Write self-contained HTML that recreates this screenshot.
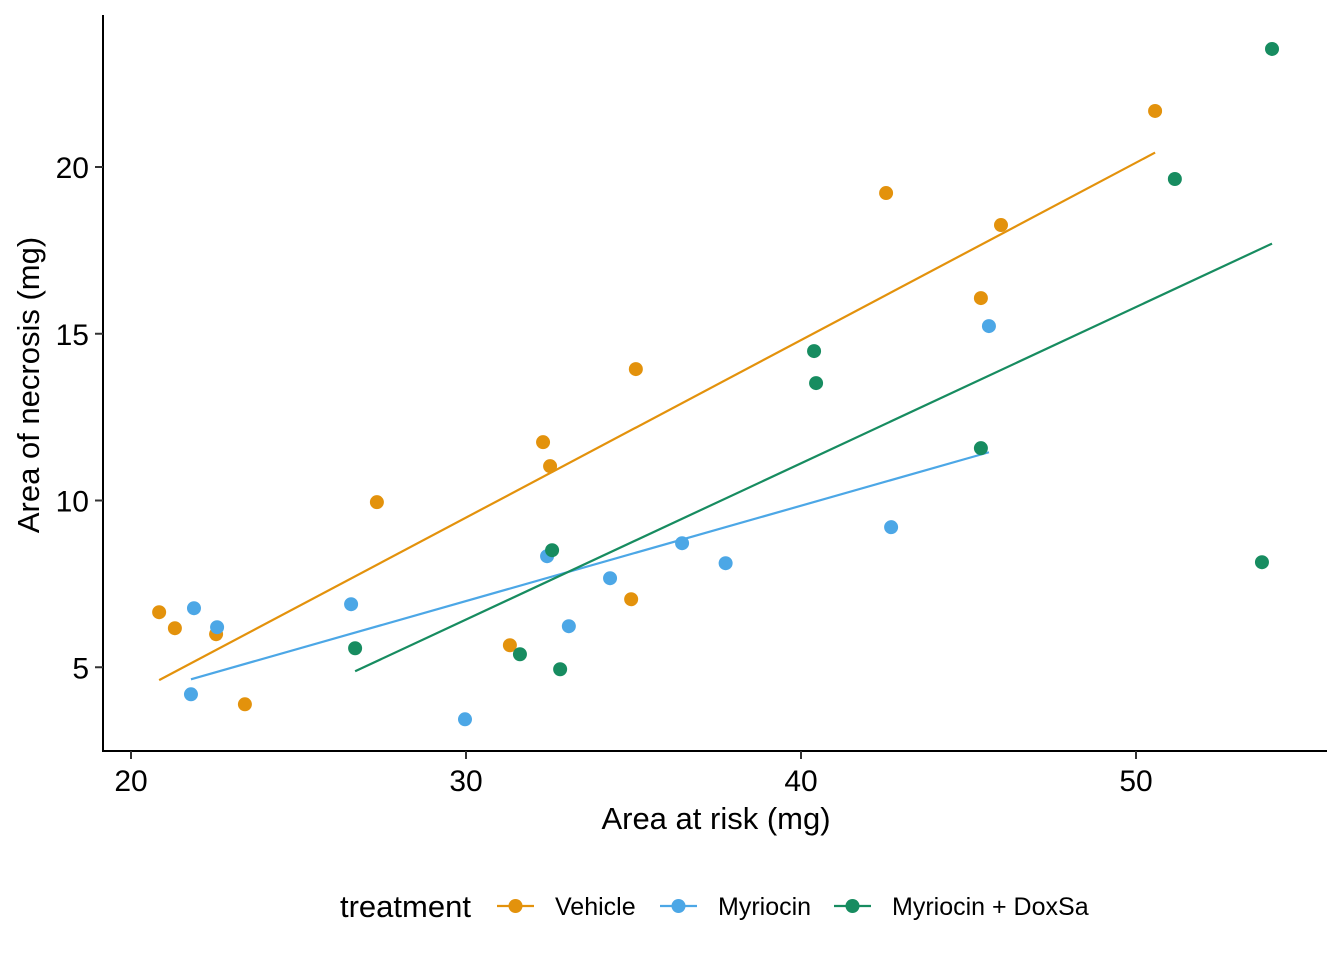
<!DOCTYPE html>
<html><head><meta charset="utf-8"><style>
body{margin:0;background:#fff}
svg text{font-family:"Liberation Sans",Arial,sans-serif;fill:#000}
</style></head><body>
<svg id="chart" width="1344" height="960" xmlns="http://www.w3.org/2000/svg">
<g id="plot"></g>
</svg>
<script>
const groups = ["Vehicle","Myriocin","Myriocin + DoxSa"];
const colors = ["#E3920C","#4CA7E6","#178C60"];
const vehX = [20.84,21.31,22.54,23.40,27.34,31.31,32.30,32.51,35.07,34.93,42.54,45.37,45.97,50.57];
const vehY = [6.65,6.17,5.99,3.89,9.95,5.66,11.75,11.03,13.94,7.04,19.22,16.07,18.26,21.68];
const myrX = [21.79,21.88,22.57,26.57,29.97,32.42,33.07,34.30,36.45,37.75,42.69,45.61];
const myrY = [4.19,6.77,6.20,6.89,3.44,8.33,6.23,7.67,8.72,8.12,9.20,15.23];
const doxX = [26.69,31.61,32.57,32.81,40.39,40.45,45.37,51.16,53.76,54.06];
const doxY = [5.57,5.39,8.51,4.94,14.48,13.52,11.57,19.64,8.15,23.54];
const xTicks = [20,30,40,50];
const yTicks = [5,10,15,20];

const NS="http://www.w3.org/2000/svg";
const xs = v => 131 + (v-20)*33.5;
const ys = v => 167 + (20-v)*33.35;
const g = document.getElementById('plot');
function mk(tag, attrs){const e=document.createElementNS(NS,tag);for(const k in attrs)e.setAttribute(k,attrs[k]);g.appendChild(e);return e;}

let ax=mk('line',{x1:103,y1:15,x2:103,y2:752,stroke:'#000','stroke-width':2});


ax=mk('line',{x1:102,y1:751,x2:1327,y2:751,stroke:'#000','stroke-width':2});


xTicks.forEach(t=>{
  const l=mk('line',{x1:xs(t),y1:751,x2:xs(t),y2:759,stroke:'#333','stroke-width':2});
  
  
  const tx=mk('text',{x:xs(t),y:791,'font-size':30,'text-anchor':'middle'});tx.textContent=t;
  
  
});
yTicks.forEach(t=>{
  const l=mk('line',{x1:95,y1:ys(t),x2:103,y2:ys(t),stroke:'#333','stroke-width':2});
  
  
  const tx=mk('text',{x:89,y:ys(t)+11,'font-size':30,'text-anchor':'end'});tx.textContent=t;
  
  
});
let t=mk('text',{x:716,y:829,'font-size':31,'text-anchor':'middle'});t.textContent='Area at risk (mg)';


t=mk('text',{x:39,y:385,'font-size':31,'text-anchor':'middle',transform:'rotate(-90 39 385)'});t.textContent='Area of necrosis (mg)';



const data=[[vehX,vehY],[myrX,myrY],[doxX,doxY]];
data.forEach(([X,Y],i)=>{
  const n=X.length,mx=X.reduce((a,b)=>a+b)/n,my=Y.reduce((a,b)=>a+b)/n;
  let sxy=0,sxx=0;X.forEach((x,j)=>{sxy+=(x-mx)*(Y[j]-my);sxx+=(x-mx)**2;});
  const b=sxy/sxx,a=my-b*mx,x0=Math.min(...X),x1=Math.max(...X);
  const l=mk('line',{x1:xs(x0),y1:ys(a+b*x0),x2:xs(x1),y2:ys(a+b*x1),stroke:colors[i],'stroke-width':2.2});
  
  
});
data.forEach(([X,Y],i)=>{
  X.forEach((x,j)=>{
    const c=mk('circle',{cx:xs(x),cy:ys(Y[j]),r:7,fill:colors[i]});
    
    
  });
});
// legend
t=mk('text',{x:340,y:917,'font-size':31});t.textContent='treatment';


const lx=[497,660,834];
groups.forEach((gname,i)=>{
  const l=mk('line',{x1:lx[i],y1:906,x2:lx[i]+37,y2:906,stroke:colors[i],'stroke-width':2.2});
  
  
  const c=mk('circle',{cx:lx[i]+18.5,cy:906,r:7,fill:colors[i]});
  
  
  const tx=mk('text',{x:lx[i]+58,y:915,'font-size':25});tx.textContent=gname;
  
  
});
</script>
</body></html>
